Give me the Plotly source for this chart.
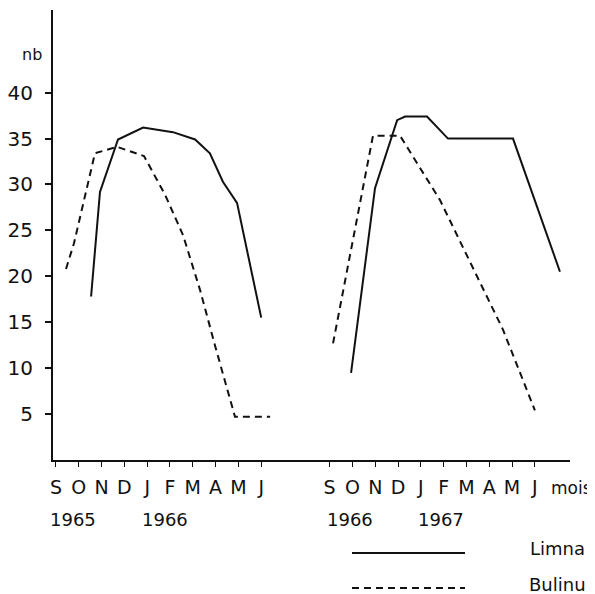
import plotly.graph_objects as go

# Month index: 0 = Sept 1965 ... 9 = June 1966 ; 12 = Sept 1966 ... 21 = June 1967
month_ticks = [0, 1, 2, 3, 4, 5, 6, 7, 8, 9, 12, 13, 14, 15, 16, 17, 18, 19, 20, 21]
month_labels = ["S", "O", "N", "D", "J", "F", "M", "A", "M", "J",
                "S", "O", "N", "D", "J", "F", "M", "A", "M", "J"]
year_pos = [0.75, 4.8, 12.9, 16.9]
year_labels = ["1965", "1966", "1966", "1967"]

y_ticks = [5, 10, 15, 20, 25, 30, 35, 40]

# Limnaea (solid)
limnaea_x1 = [1.54, 1.93, 2.72, 3.82, 5.13, 6.10, 6.75, 7.32, 7.94, 9.0]
limnaea_y1 = [17.8, 29.2, 34.9, 36.2, 35.7, 34.9, 33.4, 30.3, 28.0, 15.5]
limnaea_x2 = [12.94, 13.99, 14.96, 15.31, 16.27, 17.19, 20.04, 20.79, 22.1]
limnaea_y2 = [9.5, 29.6, 37.0, 37.4, 37.4, 35.0, 35.0, 29.7, 20.5]

# Bulinus (dashed)
bulinus_x1 = [0.44, 0.79, 1.71, 2.68, 3.86, 4.78, 5.57, 6.32, 6.97, 7.85, 9.39]
bulinus_y1 = [20.8, 23.6, 33.4, 34.1, 33.1, 28.9, 24.5, 18.5, 12.5, 4.7, 4.7]
bulinus_x2 = [12.15, 13.90, 15.09, 15.83, 16.84, 18.6, 19.6, 20.7, 21.0]
bulinus_y2 = [12.7, 35.3, 35.3, 32.4, 28.3, 19.3, 14.2, 7.3, 5.4]

legend_labels = ["Limna", "Bulinu"]

FONT = "DejaVu Sans"
INK = "#111111"

# page body has an 8px margin, so the figure is drawn at (8, 8)
OFF = 8
W, H = 595 - OFF, 594 - OFF
L, R, T, B = 53 - OFF, 25, 10 - OFF, 134
PW, PH = W - L - R, H - T - B


def py(px_y):
    # reference pixel y -> paper coordinate
    return (460 - px_y) / PH


def px_(px_x):
    # reference pixel x -> paper coordinate
    return (px_x - 53) / PW


fig = go.Figure()
solid = dict(color=INK, width=2)
dashed = dict(color=INK, width=2, dash="7px,5px")
for xs, ys, ln, nm in [
    (limnaea_x1, limnaea_y1, solid, "Limnaea"),
    (limnaea_x2, limnaea_y2, solid, "Limnaea"),
    (bulinus_x1, bulinus_y1, dashed, "Bulinus"),
    (bulinus_x2, bulinus_y2, dashed, "Bulinus"),
]:
    fig.add_trace(go.Scatter(x=xs, y=ys, mode="lines", line=ln, name=nm,
                             showlegend=False, hoverinfo="skip"))

annotations = []
for xp, lab in zip(year_pos, year_labels):
    annotations.append(dict(x=xp, y=py(519), xref="x", yref="paper", text=lab,
                            showarrow=False, xanchor="center", yanchor="middle",
                            font=dict(family=FONT, size=18, color=INK)))
annotations.append(dict(x=px_(594), y=py(488), xref="paper", yref="paper", text="mois",
                        showarrow=False, xanchor="right", yanchor="middle",
                        font=dict(family=FONT, size=17, color=INK)))
annotations.append(dict(x=px_(32), y=py(55), xref="paper", yref="paper", text="nb",
                        showarrow=False, xanchor="center", yanchor="middle",
                        font=dict(family=FONT, size=16, color=INK)))
annotations.append(dict(x=px_(528), y=py(548), xref="paper", yref="paper",
                        text=legend_labels[0], showarrow=False, xanchor="left",
                        yanchor="middle", font=dict(family=FONT, size=18, color=INK)))
annotations.append(dict(x=px_(527), y=py(584), xref="paper", yref="paper",
                        text=legend_labels[1], showarrow=False, xanchor="left",
                        yanchor="middle", font=dict(family=FONT, size=18, color=INK)))

shapes = [
    dict(type="line", xref="paper", yref="paper", x0=px_(352), x1=px_(465),
         y0=py(553), y1=py(553), line=dict(color=INK, width=2)),
    dict(type="line", xref="paper", yref="paper", x0=px_(352), x1=px_(465),
         y0=py(588), y1=py(588), line=dict(color=INK, width=1.8, dash="7px,5px")),
]

fig.update_layout(
    width=W, height=H,
    margin=dict(l=L, r=R, t=T, b=B, autoexpand=False),
    paper_bgcolor="white", plot_bgcolor="white",
    showlegend=False,
    annotations=annotations,
    shapes=shapes,
    xaxis=dict(range=[-0.13, 22.54], tickmode="array", tickvals=month_ticks,
               ticktext=month_labels, showgrid=False, zeroline=False,
               showline=True, linecolor=INK, linewidth=2, automargin=False,
               ticks="outside", ticklen=5, tickwidth=1, tickcolor=INK,
               ticklabelstandoff=4,
               tickfont=dict(family=FONT, size=19, color=INK)),
    yaxis=dict(range=[0, 49.0], tickmode="array", tickvals=y_ticks,
               ticktext=[str(v) for v in y_ticks], showgrid=False, zeroline=False,
               showline=True, linecolor=INK, linewidth=2, automargin=False,
               ticks="outside", ticklen=6, tickwidth=1.5, tickcolor=INK,
               ticklabelstandoff=8,
               tickfont=dict(family=FONT, size=20, color=INK)),
)

fig.write_html("out.html")
